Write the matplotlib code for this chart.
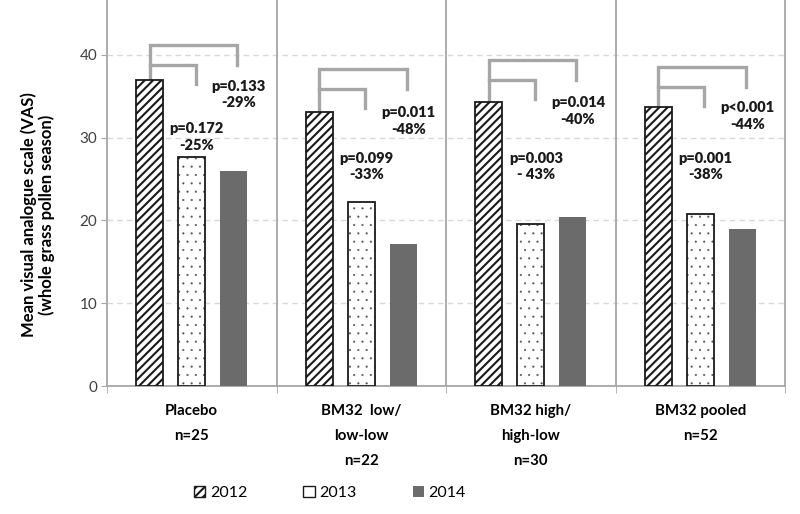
import numpy as np
import matplotlib
matplotlib.use("Agg")
import matplotlib.pyplot as plt
from matplotlib.patches import Patch

plt.rcParams['font.family'] = ['Lato', 'DejaVu Sans']
plt.rcParams['hatch.linewidth'] = 1.5

# data
groups = ["Placebo\nn=25", "BM32  low/\nlow-low\nn=22", "BM32 high/\nhigh-low\nn=30", "BM32 pooled\nn=52"]
years = ["2012", "2013", "2014"]
vas_2012 = [37.0, 33.1, 34.3, 33.7]
vas_2013 = [27.7, 22.2, 19.6, 20.8]
vas_2014 = [26.0, 17.1, 20.4, 18.9]
p_2013 = ["p=0.172\n-25%", "p=0.099\n-33%", "p=0.003\n- 43%", "p=0.001\n-38%"]
p_2014 = ["p=0.133\n-29%", "p=0.011\n-48%", "p=0.014\n-40%", "p<0.001\n-44%"]
# annotation levels (bracket top, label centres)
bracket_top = [41.2, 38.3, 39.3, 38.5]
lbl_2014_y = [35.2, 32.0, 33.2, 32.6]
lbl_2013_y = [30.05, 26.5, 26.5, 26.5]

grey = '#a6a6a6'
dark = '#6b6b6b'

fig = plt.figure(figsize=(8, 5.14), dpi=100)
ax = fig.add_axes([107/800, 1-386/514, 678/800, 386/514])

x = np.arange(len(groups))
off = 0.248
w = 0.16

ax.bar(x - off, vas_2012, w, color='white', edgecolor='#1a1a1a', hatch='////', lw=1.3, zorder=3)
# thin dots for 2013
plt.rcParams['hatch.linewidth'] = 0.3
ax.bar(x, vas_2013, w, color='white', edgecolor='#555555', hatch='..', lw=0, zorder=3)
plt.rcParams['hatch.linewidth'] = 1.5
ax.bar(x, vas_2013, w, color='none', edgecolor='#1a1a1a', lw=1.3, zorder=4)
ax.bar(x + off, vas_2014, w, color=dark, lw=0, zorder=3)

for i in range(len(groups)):
    top = bracket_top[i]
    xl = x[i] - off
    ax.plot([xl, xl, x[i] + off + 0.02, x[i] + off + 0.02],
            [vas_2012[i], top, top, top - 2.4], color=grey, lw=2.4, zorder=2,
            solid_joinstyle='miter')
    ax.plot([xl, x[i] + 0.025, x[i] + 0.025],
            [top - 2.4, top - 2.4, top - 4.7], color=grey, lw=2.4, zorder=2,
            solid_joinstyle='miter')
    ax.text(x[i] + off + 0.03, lbl_2014_y[i], p_2014[i], ha='center', va='center',
            fontsize=10.5, fontweight='heavy', linespacing=1.35, color='#1a1a1a', zorder=5)
    ax.text(x[i] + 0.03, lbl_2013_y[i], p_2013[i], ha='center', va='center',
            fontsize=10.5, fontweight='heavy', linespacing=1.35, color='#1a1a1a', zorder=5)

for b in [0.5, 1.5, 2.5]:
    ax.axvline(b, color=grey, lw=1.3, zorder=1)

ax.set_xlim(-0.5, 3.5)
ax.set_ylim(0, 46.6)
ax.set_yticks([0, 10, 20, 30, 40])
ax.yaxis.grid(True, ls=(0, (4, 3)), color='#d9d9d9', lw=1)
ax.set_axisbelow(True)
ax.tick_params(axis='y', length=4, color=grey, labelsize=11, labelcolor='#404040', pad=3)

ax.set_xticks(x)
ax.set_xticklabels(groups, fontsize=10.8, fontweight='bold', linespacing=2.0)
ax.set_xticks([0.5, 1.5, 2.5, 3.5, -0.5], minor=True)
ax.tick_params(axis='x', which='major', length=0, pad=13)
ax.tick_params(axis='x', which='minor', length=5, color=grey)

ax.spines['top'].set_visible(False)
for s in ['left', 'bottom', 'right']:
    ax.spines[s].set_color(grey)
    ax.spines[s].set_linewidth(1.3)

fig.text(0.047, 1-215/514, "Mean visual analogue scale (VAS)\n(whole grass pollen season)",
         rotation=90, ha='center', va='center', fontsize=12, fontweight='bold',
         linespacing=1.15)

handles = [Patch(facecolor='white', edgecolor='#1a1a1a', hatch='////', lw=1),
           Patch(facecolor='white', edgecolor='#1a1a1a', lw=1),
           Patch(facecolor=dark, lw=0)]
fig.legend(handles, years, loc='center', bbox_to_anchor=(330/800, 1-493/514), ncol=3,
           frameon=False, fontsize=11.5, handlelength=0.7, handleheight=0.7,
           handletextpad=0.3, columnspacing=3.5)

fig.savefig("out.png", dpi=100)
